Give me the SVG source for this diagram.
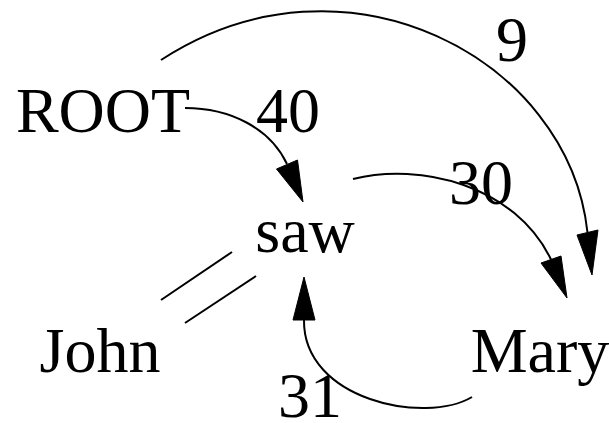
<svg xmlns="http://www.w3.org/2000/svg" width="609" height="423" viewBox="0 0 609 423">
<style>
text { font-family: "Liberation Serif", "Times New Roman", serif; font-size: 64px; fill: #000; text-anchor: middle; }
.edge { fill: none; stroke: #000; stroke-width: 2; }
.head { fill: #000; stroke: #000; stroke-width: 1; }
</style>
<rect width="609" height="423" fill="#fff"/>
<g id="connectors">
  <g id="e-root-saw">
    <path class="edge" d="M185,108 C230,108 270,128 287,164"/>
    <polygon class="head" points="303,202 276.5,169 297.5,160"/>
    <text x="288" y="132">40</text>
  </g>
  <g id="e-root-mary">
    <path class="edge" d="M161,60 C345,-60 569,58 587.5,232.5"/>
    <polygon class="head" points="592,275 577,235 598,230"/>
    <text x="512" y="61">9</text>
  </g>
  <g id="e-saw-mary">
    <path class="edge" d="M353,179 C420,162 515,185 551,259.5"/>
    <polygon class="head" points="567,298 541,263 561,256"/>
    <text x="481" y="204">30</text>
  </g>
  <g id="e-mary-saw">
    <path class="edge" d="M472,397 C425,425 303,400 304,320"/>
    <polygon class="head" points="304,277 293,320 315,320"/>
    <text x="310" y="417">31</text>
  </g>
  <g id="e-john-saw">
    <line class="edge" x1="161" y1="300" x2="232" y2="252"/>
    <line class="edge" x1="185" y1="323" x2="256" y2="276"/>
  </g>
</g>
<g id="node-root"><text x="103" y="132">ROOT</text></g>
<g id="node-saw"><text x="305" y="252">saw</text></g>
<g id="node-john"><text x="100" y="372">John</text></g>
<g id="node-mary"><text x="540" y="372">Mary</text></g>
</svg>
